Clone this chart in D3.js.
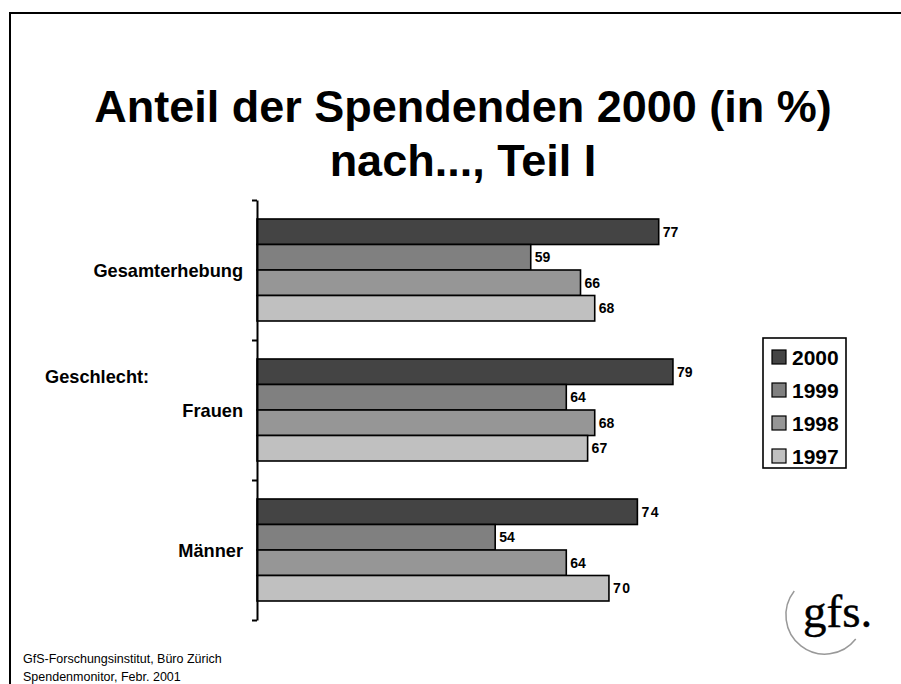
<!DOCTYPE html>
<html>
<head>
<meta charset="utf-8">
<script src="https://cdn.jsdelivr.net/npm/d3@7"></script>
<style>
  html, body { margin: 0; padding: 0; background: #fff; }
  svg { display: block; }
  text { font-family: "Liberation Sans", Arial, sans-serif; }
  text.logo { font-family: "Liberation Serif", "Times New Roman", serif; }
</style>
</head>
<body>
<script>
// ---- Data ----
const categories = ["Gesamterhebung", "Frauen", "Männer"];
const years = ["2000", "1999", "1998", "1997"];
const v2000 = [77, 79, 74];
const v1999 = [59, 64, 54];
const v1998 = [66, 68, 64];
const v1997 = [68, 67, 70];
const colors = ["#444444", "#808080", "#969696", "#c0c0c0"];

const series = [v2000, v1999, v1998, v1997];

const W = 901, H = 684;
const svg = d3.select("body").append("svg").attr("width", W).attr("height", H);

// slide frame
svg.append("rect").attr("x", 10).attr("y", 13).attr("width", W).attr("height", H)
  .attr("fill", "none").attr("stroke", "#000").attr("stroke-width", 2);

// title
const title = svg.append("text").attr("text-anchor", "middle")
  .attr("font-weight", "bold").attr("font-size", 45);
title.append("tspan").attr("x", 463).attr("y", 122).text("Anteil der Spendenden 2000 (in %)");
title.append("tspan").attr("x", 463).attr("y", 176).text("nach..., Teil I");

// scales
const x = d3.scaleLinear().domain([20.5, 80]).range([257, 257 + 59.5 * 7.11]);
const y0 = d3.scaleBand().domain(categories).range([200, 620])
  .paddingInner(0.2714).paddingOuter(0.1357);
const y1 = d3.scaleBand().domain(years).range([0, y0.bandwidth()]);

// bars
const g = svg.append("g");
categories.forEach((cat, ci) => {
  years.forEach((yr, si) => {
    const v = series[si][ci];
    const yy = y0(cat) + y1(yr);
    g.append("rect")
      .attr("x", x(20.5)).attr("y", yy)
      .attr("width", x(v) - x(20.5)).attr("height", y1.bandwidth())
      .attr("fill", colors[si]).attr("stroke", "#000").attr("stroke-width", 1.6);
    g.append("text")
      .attr("x", x(v) + 4).attr("y", yy + y1.bandwidth() / 2 + 5)
      .attr("font-weight", "bold").attr("font-size", 14)
      .attr("letter-spacing", (ci === 2 && (si === 0 || si === 3)) ? 1.5 : 0)
      .text(String(v));
  });
});

// axis with group boundary ticks
const yb = d3.scaleLinear().domain([0, 3]).range([200, 620]);
const axis = d3.axisLeft(yb).tickValues([0, 1, 2, 3]).tickSize(5).tickSizeOuter(0).tickFormat("");
const ag = svg.append("g").attr("transform", "translate(257,0)").call(axis);
ag.selectAll("path,line").attr("stroke", "#000").attr("stroke-width", 2);

// category labels
categories.forEach(cat => {
  svg.append("text").attr("x", 243).attr("y", y0(cat) + y0.bandwidth() / 2 + 6.5)
    .attr("text-anchor", "end").attr("font-weight", "bold").attr("font-size", 18.2)
    .text(cat);
});
svg.append("text").attr("x", 45).attr("y", 383)
  .attr("font-weight", "bold").attr("font-size", 18.2).text("Geschlecht:");

// legend
const lg = svg.append("g");
lg.append("rect").attr("x", 763).attr("y", 338).attr("width", 83).attr("height", 130)
  .attr("fill", "#fff").attr("stroke", "#000").attr("stroke-width", 1.6);
years.forEach((yr, i) => {
  const cy = 357 + i * 33;
  lg.append("rect").attr("x", 772).attr("y", cy - 7).attr("width", 14).attr("height", 14)
    .attr("fill", colors[i]).attr("stroke", "#000").attr("stroke-width", 1.2);
  lg.append("text").attr("x", 792).attr("y", cy + 7.5)
    .attr("font-weight", "bold").attr("font-size", 21).text(yr);
});

// footer
svg.append("text").attr("x", 23).attr("y", 663).attr("font-size", 12.5).text("GfS-Forschungsinstitut, Büro Zürich");
svg.append("text").attr("x", 23).attr("y", 681).attr("font-size", 12.5).text("Spendenmonitor, Febr. 2001");

// logo
const arc = d3.arc().innerRadius(39).outerRadius(39).startAngle(128 * Math.PI / 180).endAngle(308 * Math.PI / 180);
svg.append("path").attr("transform", "translate(825,615)").attr("d", arc())
  .attr("fill", "none").attr("stroke", "#999").attr("stroke-width", 1.5);
svg.append("text").attr("class", "logo").attr("x", 803).attr("y", 627)
  .attr("font-size", 47).attr("stroke", "#000").attr("stroke-width", 0.4).text("gfs.");
</script>
</body>
</html>
